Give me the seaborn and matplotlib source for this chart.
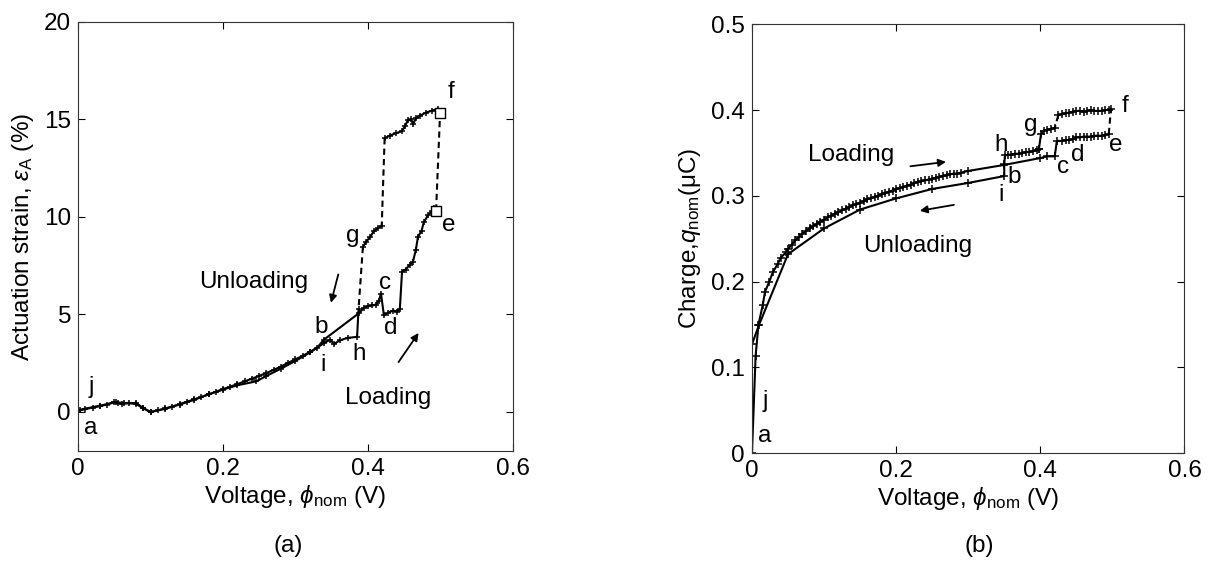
import matplotlib
matplotlib.use("Agg")
import matplotlib.pyplot as plt
import seaborn as sns

# ---------------- data (a): actuation strain vs voltage ----------------
a_load_v = [0.000, 0.010, 0.020, 0.030, 0.040, 0.050, 0.055, 0.060, 0.070, 0.080, 0.090, 0.100,
            0.110, 0.120, 0.130, 0.140, 0.150, 0.160, 0.170, 0.180, 0.190, 0.200, 0.210, 0.220,
            0.230, 0.240, 0.250, 0.260, 0.270, 0.280, 0.290, 0.300, 0.310, 0.320, 0.330, 0.339,
            0.387, 0.395, 0.400, 0.406, 0.411, 0.415, 0.418, 0.422, 0.428, 0.435, 0.440, 0.444,
            0.447, 0.452, 0.458, 0.462, 0.466, 0.469, 0.474, 0.477, 0.483, 0.488, 0.491, 0.494]
a_load_s = [0.05, 0.15, 0.22, 0.30, 0.38, 0.52, 0.45, 0.42, 0.44, 0.42, 0.18, 0.00,
            0.08, 0.18, 0.28, 0.40, 0.52, 0.64, 0.77, 0.90, 1.03, 1.17, 1.30, 1.43,
            1.57, 1.71, 1.85, 2.00, 2.16, 2.33, 2.52, 2.70, 2.88, 3.08, 3.30, 3.70,
            5.05, 5.35, 5.42, 5.46, 5.50, 5.70, 6.07, 4.96, 5.10, 5.20, 5.15, 5.28,
            7.19, 7.30, 7.56, 7.70, 8.30, 8.98, 9.30, 9.72, 10.10, 10.30, 10.46, 10.33]
a_jump_ef_v = [0.494, 0.4995]
a_jump_ef_s = [10.33, 15.33]
a_unl1_v = [0.4995, 0.497, 0.488, 0.480, 0.472, 0.466, 0.462, 0.460, 0.455, 0.451, 0.447, 0.439, 0.430, 0.423]
a_unl1_s = [15.33, 15.55, 15.45, 15.35, 15.20, 15.05, 14.75, 15.00, 14.95, 14.65, 14.40, 14.30, 14.17, 14.04]
a_jump_g1_v = [0.423, 0.419]
a_jump_g1_s = [14.04, 9.54]
a_unl2_v = [0.419, 0.414, 0.408, 0.403, 0.397, 0.393]
a_unl2_s = [9.54, 9.44, 9.26, 8.98, 8.70, 8.46]
a_jump_g2_v = [0.393, 0.387]
a_jump_g2_s = [8.46, 5.28]
a_unl3_v = [0.387, 0.385, 0.372, 0.361, 0.353, 0.348, 0.340, 0.320, 0.300, 0.280, 0.260, 0.246,
            0.220, 0.200, 0.180, 0.160, 0.140, 0.120, 0.100, 0.090, 0.080, 0.063, 0.052, 0.030, 0.003]
a_unl3_s = [5.28, 3.85, 3.80, 3.67, 3.48, 3.70, 3.55, 3.05, 2.62, 2.22, 1.85, 1.57,
            1.37, 1.15, 0.90, 0.62, 0.38, 0.16, 0.00, 0.20, 0.46, 0.46, 0.50, 0.32, 0.12]
a_sq_v = [0.494, 0.4995]
a_sq_s = [10.33, 15.33]

# ---------------- data (b): charge vs voltage ----------------
b_load_v = [0.000, 0.005, 0.009, 0.015, 0.018, 0.024, 0.029, 0.036, 0.040, 0.047, 0.050, 0.055,
            0.060, 0.065, 0.070, 0.075, 0.080, 0.085, 0.090, 0.095, 0.100, 0.105, 0.110, 0.115,
            0.120, 0.125, 0.130, 0.135, 0.140, 0.145, 0.150, 0.155, 0.160, 0.165, 0.170, 0.175,
            0.180, 0.185, 0.190, 0.195, 0.200, 0.205, 0.210, 0.215, 0.220, 0.225, 0.230, 0.235,
            0.240, 0.245, 0.250, 0.255, 0.260, 0.265, 0.270, 0.275, 0.280, 0.285, 0.290, 0.300,
            0.350, 0.400, 0.410, 0.420, 0.423, 0.430, 0.435, 0.440, 0.445, 0.450, 0.455, 0.460,
            0.465, 0.470, 0.475, 0.480, 0.485, 0.490, 0.495]
b_load_q = [0.000, 0.113, 0.150, 0.173, 0.188, 0.200, 0.211, 0.221, 0.228, 0.234, 0.238, 0.243,
            0.248, 0.252, 0.256, 0.259, 0.262, 0.265, 0.267, 0.270, 0.272, 0.275, 0.277, 0.279,
            0.281, 0.283, 0.285, 0.287, 0.289, 0.290, 0.292, 0.294, 0.296, 0.297, 0.299, 0.300,
            0.302, 0.303, 0.305, 0.306, 0.308, 0.309, 0.310, 0.312, 0.313, 0.315, 0.316, 0.317,
            0.318, 0.319, 0.320, 0.321, 0.322, 0.323, 0.324, 0.325, 0.326, 0.326, 0.327, 0.329,
            0.336, 0.344, 0.346, 0.346, 0.364, 0.364, 0.365, 0.365, 0.366, 0.368, 0.368, 0.369,
            0.369, 0.369, 0.370, 0.370, 0.370, 0.371, 0.372]
b_jump_ef_v = [0.495, 0.498]
b_jump_ef_q = [0.372, 0.401]
b_unl1_v = [0.498, 0.495, 0.490, 0.485, 0.480, 0.475, 0.470, 0.465, 0.460, 0.455, 0.450, 0.445,
            0.440, 0.435, 0.430, 0.425]
b_unl1_q = [0.401, 0.400, 0.400, 0.399, 0.399, 0.399, 0.400, 0.399, 0.398, 0.399, 0.399, 0.398,
            0.397, 0.396, 0.395, 0.394]
b_jump_g1_v = [0.425, 0.420]
b_jump_g1_q = [0.394, 0.379]
b_unl2_v = [0.420, 0.415, 0.410, 0.405, 0.401, 0.398]
b_unl2_q = [0.379, 0.378, 0.377, 0.376, 0.372, 0.354]
b_unl3_v = [0.398, 0.395, 0.390, 0.385, 0.380, 0.375, 0.370, 0.365, 0.360, 0.355, 0.351, 0.350,
            0.350, 0.300, 0.250, 0.200, 0.150, 0.100, 0.050, 0.010, 0.000]
b_unl3_q = [0.354, 0.353, 0.352, 0.351, 0.351, 0.350, 0.349, 0.349, 0.348, 0.348, 0.347, 0.337,
            0.323, 0.315, 0.308, 0.297, 0.284, 0.262, 0.232, 0.150, 0.127]

FONT = "Liberation Sans"
FS = 17.5
sns.set_style("ticks")
plt.rcParams["font.family"] = [FONT, "DejaVu Sans"]
plt.rcParams["mathtext.fontset"] = "custom"
plt.rcParams["mathtext.rm"] = FONT
plt.rcParams["mathtext.it"] = FONT + ":italic"
plt.rcParams["mathtext.bf"] = FONT + ":bold"
plt.rcParams["font.size"] = FS
for key in ("text.color", "axes.labelcolor", "xtick.color", "ytick.color"):
    plt.rcParams[key] = "black"

fig = plt.figure(figsize=(12.08, 5.63), dpi=100)
axA = fig.add_axes([0.0646, 0.199, 0.360, 0.762])
axB = fig.add_axes([0.6225, 0.195, 0.358, 0.762])

LW = 1.5
solid = dict(color="k", lw=LW, sort=False, estimator=None, marker="+", markersize=4,
             markeredgewidth=1.1, markeredgecolor="k")
dash = dict(color="k", lw=LW, sort=False, estimator=None, linestyle=(0, (3, 2)))

# ---- panel (a) ----
sns.lineplot(x=a_load_v, y=a_load_s, ax=axA, **solid)
sns.lineplot(x=a_jump_ef_v, y=a_jump_ef_s, ax=axA, **dash)
sns.lineplot(x=a_unl1_v, y=a_unl1_s, ax=axA, **solid)
sns.lineplot(x=a_jump_g1_v, y=a_jump_g1_s, ax=axA, **dash)
sns.lineplot(x=a_unl2_v, y=a_unl2_s, ax=axA, **solid)
sns.lineplot(x=a_jump_g2_v, y=a_jump_g2_s, ax=axA, **dash)
sns.lineplot(x=a_unl3_v, y=a_unl3_s, ax=axA, **solid)
sns.scatterplot(x=a_sq_v, y=a_sq_s, ax=axA, marker="s", s=42, facecolor="white",
                edgecolor="k", linewidth=1.0, zorder=5)

axA.set_xlim(0, 0.6)
axA.set_ylim(-2, 20)
axA.set_xticks([0, 0.2, 0.4, 0.6])
axA.set_xticklabels(["0", "0.2", "0.4", "0.6"])
axA.set_yticks([0, 5, 10, 15, 20])
axA.set_xlabel(r"Voltage, $\phi_{\rm nom}$ (V)", fontsize=FS, labelpad=2)
axA.set_ylabel(r"Actuation strain, $\varepsilon_{\rm A}$ (%)", fontsize=FS, labelpad=6)

for t, x, y in [("f", 0.515, 16.4), ("e", 0.512, 9.6), ("g", 0.379, 9.0), ("c", 0.424, 6.6),
                ("d", 0.432, 4.3), ("b", 0.336, 4.35), ("h", 0.388, 2.96), ("i", 0.338, 2.4),
                ("j", 0.018, 1.3), ("a", 0.017, -0.83)]:
    axA.text(x, y, t, ha="center", va="center", fontsize=FS)
axA.text(0.242, 6.67, "Unloading", ha="center", va="center", fontsize=FS)
axA.text(0.428, 0.74, "Loading", ha="center", va="center", fontsize=FS)
axA.annotate("", xy=(0.348, 5.46), xytext=(0.360, 7.19),
             arrowprops=dict(arrowstyle="-|>", color="k", lw=1.3, mutation_scale=11))
axA.annotate("", xy=(0.472, 4.17), xytext=(0.440, 2.44),
             arrowprops=dict(arrowstyle="-|>", color="k", lw=1.3, mutation_scale=11))

# ---- panel (b) ----
solidB = dict(solid, markersize=6)
sns.lineplot(x=b_load_v, y=b_load_q, ax=axB, **solidB)
sns.lineplot(x=b_jump_ef_v, y=b_jump_ef_q, ax=axB, **dash)
sns.lineplot(x=b_unl1_v, y=b_unl1_q, ax=axB, **solidB)
sns.lineplot(x=b_jump_g1_v, y=b_jump_g1_q, ax=axB, **dash)
sns.lineplot(x=b_unl2_v, y=b_unl2_q, ax=axB, **solidB)
sns.lineplot(x=b_unl3_v, y=b_unl3_q, ax=axB, **solidB)

axB.set_xlim(0, 0.6)
axB.set_ylim(0, 0.5)
axB.set_xticks([0, 0.2, 0.4, 0.6])
axB.set_xticklabels(["0", "0.2", "0.4", "0.6"])
axB.set_yticks([0, 0.1, 0.2, 0.3, 0.4, 0.5])
axB.set_yticklabels(["0", "0.1", "0.2", "0.3", "0.4", "0.5"])
axB.set_xlabel(r"Voltage, $\phi_{\rm nom}$ (V)", fontsize=FS, labelpad=2)
axB.set_ylabel(r"Charge,$q_{\rm nom}$(μC)", fontsize=FS, labelpad=6)

for t, x, y in [("f", 0.517, 0.405), ("e", 0.505, 0.359), ("g", 0.387, 0.383), ("h", 0.345, 0.359),
                ("c", 0.432, 0.334), ("d", 0.452, 0.347), ("b", 0.364, 0.322), ("i", 0.346, 0.301),
                ("j", 0.018, 0.061), ("a", 0.017, 0.020)]:
    axB.text(x, y, t, ha="center", va="center", fontsize=FS)
axB.text(0.137, 0.348, "Loading", ha="center", va="center", fontsize=FS)
axB.text(0.230, 0.241, "Unloading", ha="center", va="center", fontsize=FS)
axB.annotate("", xy=(0.273, 0.340), xytext=(0.216, 0.334),
             arrowprops=dict(arrowstyle="-|>", color="k", lw=1.3, mutation_scale=11))
axB.annotate("", xy=(0.229, 0.282), xytext=(0.284, 0.290),
             arrowprops=dict(arrowstyle="-|>", color="k", lw=1.3, mutation_scale=11))

for ax in (axA, axB):
    ax.tick_params(direction="in", top=True, right=True, labelsize=FS, length=5, width=0.8,
                   pad=5, colors="black")
    for sp in ax.spines.values():
        sp.set_visible(True)
        sp.set_linewidth(0.8)
        sp.set_color("#333333")
    ax.set_facecolor("white")

fig.text(0.2385, 0.030, "(a)", ha="center", va="center", fontsize=FS)
fig.text(0.811, 0.030, "(b)", ha="center", va="center", fontsize=FS)

fig.savefig("out.png", dpi=100, facecolor="white")
